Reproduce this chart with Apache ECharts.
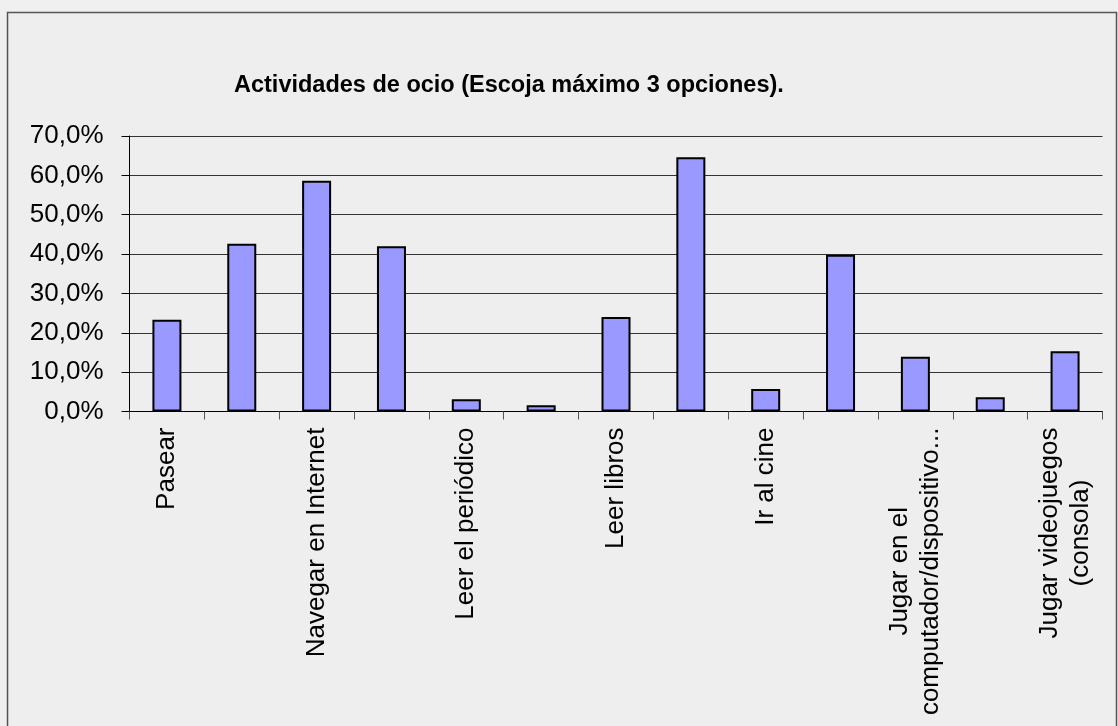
<!DOCTYPE html>
<html>
<head>
<meta charset="utf-8">
<title>Actividades de ocio</title>
<script src="https://cdn.jsdelivr.net/npm/echarts@6/dist/echarts.min.js"></script>
<style>
  html, body { margin: 0; padding: 0; background: #f0f0f0; }
  #chart { width: 1118px; height: 726px; }
</style>
</head>
<body>
<div id="chart"></div>
<script>
// Activities (one label shown for every second bar on the axis)
const categories = [
  'Pasear',
  'Hacer deporte',
  'Navegar en Internet',
  'Escuchar música',
  'Leer el periódico',
  'Ir a museos',
  'Leer libros',
  'Ver televisión',
  'Ir al cine',
  'Compartir con amigos',
  'Jugar en el\ncomputador/dispositivo...',
  'Ir a conciertos',
  'Jugar videojuegos\n(consola)'
];

// Share of respondents choosing each activity, in percent
const porcentajes = [23.3, 42.6, 58.6, 42.0, 3.1, 1.6, 24.0, 64.6, 5.7, 39.8, 13.9, 3.6, 15.3];

// Value axis ticks
const yMin = 0;
const yMax = 70;
const yStep = 10;

const FONT = '"Liberation Sans", Arial, sans-serif';

const chart = echarts.init(document.getElementById('chart'), null, { renderer: 'canvas' });

chart.setOption({
  backgroundColor: '#f0f0f0',
  animation: false,
  graphic: [{
    type: 'rect',
    z: -10,
    shape: { x: 7.5, y: 12.5, width: 1109, height: 740 },
    style: { fill: '#eeeeee', stroke: '#555555', lineWidth: 1.5 }
  }],
  title: {
    text: 'Actividades de ocio (Escoja máximo 3 opciones).',
    left: 229,
    top: 69,
    textStyle: {
      fontFamily: FONT,
      fontSize: 23.5,
      fontWeight: 'bold',
      color: '#000'
    }
  },
  grid: {
    left: 129.5,
    right: 15.5,
    top: 136,
    bottom: 314.5,
    containLabel: false
  },
  xAxis: {
    type: 'category',
    data: categories,
    boundaryGap: true,
    axisLine: { show: true, lineStyle: { color: '#000', width: 1 } },
    axisTick: { show: true, interval: 0, alignWithLabel: false, length: 8, lineStyle: { color: '#555', width: 1 } },
    axisLabel: {
      interval: 1,
      rotate: 90,
      margin: 16,
      color: '#000',
      fontFamily: FONT,
      fontSize: 26,
      lineHeight: 31,
      formatter: function (value) {
        return value.split('\n').map(function (line) { return '{c|' + line + '}'; }).join('\n');
      },
      rich: {
        c: {
          align: 'center',
          fontFamily: FONT,
          fontSize: 26,
          lineHeight: 31,
          color: '#000'
        }
      }
    },
    splitLine: { show: false }
  },
  yAxis: {
    type: 'value',
    min: yMin,
    max: yMax,
    interval: yStep,
    axisLine: { show: true, lineStyle: { color: '#000', width: 1 } },
    axisTick: { show: true, length: 8, lineStyle: { color: '#000', width: 1 } },
    axisLabel: {
      margin: 26,
      color: '#000',
      fontFamily: FONT,
      fontSize: 26,
      formatter: function (v) { return v.toFixed(1).replace('.', ',') + '%'; }
    },
    splitLine: { show: true, lineStyle: { color: '#333333', width: 1 } }
  },
  series: [{
    type: 'bar',
    data: porcentajes,
    barWidth: 29,
    itemStyle: {
      color: '#9999ff',
      borderColor: '#000',
      borderWidth: 2
    }
  }]
});
</script>
</body>
</html>
